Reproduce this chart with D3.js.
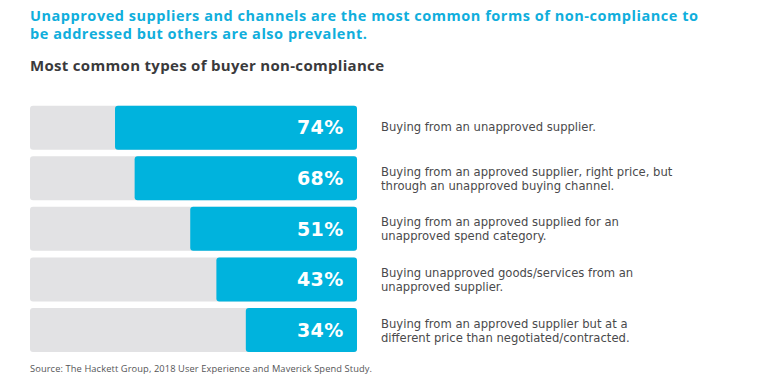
<!DOCTYPE html>
<html>
<head>
<meta charset="utf-8">
<script src="https://cdn.jsdelivr.net/npm/d3@7"></script>
<style>
  html, body { margin: 0; padding: 0; background: #ffffff; }
  svg { display: block; }
</style>
</head>
<body>
<script>
// ---- data ----
const categories = [
  "Buying from an unapproved supplier.",
  "Buying from an approved supplier, right price, but through an unapproved buying channel.",
  "Buying from an approved supplied for an unapproved spend category.",
  "Buying unapproved goods/services from an unapproved supplier.",
  "Buying from an approved supplier but at a different price than negotiated/contracted."
];
const descriptionLines = [
  ["Buying from an unapproved supplier."],
  ["Buying from an approved supplier, right price, but", "through an unapproved buying channel."],
  ["Buying from an approved supplied for an", "unapproved spend category."],
  ["Buying unapproved goods/services from an", "unapproved supplier."],
  ["Buying from an approved supplier but at a", "different price than negotiated/contracted."]
];
const values = [74, 68, 51, 43, 34];
const titleLines = [
  "Unapproved suppliers and channels are the most common forms of non-compliance to",
  "be addressed but others are also prevalent."
];
const subtitle = "Most common types of buyer non-compliance";
const source = "Source: The Hackett Group, 2018 User Experience and Maverick Spend Study.";

// ---- layout ----
const W = 760, H = 383;
const trackLeft = 30, trackRight = 357;
const svg = d3.select("body").append("svg").attr("width", W).attr("height", H);

const y = d3.scaleBand().domain(categories).range([105.7, 352]).paddingInner(0.13).paddingOuter(0);
const x = d3.scaleLinear().domain([0, 100]).range([0, trackRight - trackLeft]);

// title (one text element, two lines)
const title = svg.append("text")
  .attr("font-family", "'Open Sans', sans-serif").attr("font-weight", 700)
  .attr("font-size", 14.5).attr("fill", "#10aedc");
title.selectAll("tspan").data(titleLines).join("tspan")
  .attr("x", 30).attr("y", (d, i) => 21.3 + i * 18)
  .attr("textLength", (d, i) => i === 0 ? 668 : 337).attr("lengthAdjust", "spacing")
  .text(d => d);

svg.append("text").attr("x", 30).attr("y", 70.7)
  .attr("font-family", "'Open Sans', sans-serif").attr("font-weight", 700)
  .attr("font-size", 15).attr("fill", "#3a3a3c")
  .attr("textLength", 354).attr("lengthAdjust", "spacing")
  .text(subtitle);

// rows
const rows = svg.append("g").selectAll("g").data(categories).join("g")
  .attr("transform", d => `translate(0,${y(d)})`);

rows.append("rect")
  .attr("x", trackLeft).attr("y", 0)
  .attr("width", x(100)).attr("height", y.bandwidth())
  .attr("rx", 3).attr("fill", "#e2e2e4");

rows.append("rect")
  .attr("x", (d, i) => trackRight - x(values[i])).attr("y", 0)
  .attr("width", (d, i) => x(values[i])).attr("height", y.bandwidth())
  .attr("rx", 3).attr("fill", "#00b3dd");

rows.append("text")
  .attr("x", trackRight - 60).attr("y", y.bandwidth() / 2 + 6.8)
  .attr("font-family", "'DejaVu Sans', sans-serif").attr("font-weight", 700)
  .attr("font-size", 19).attr("fill", "#ffffff").attr("letter-spacing", 0.4)
  .text((d, i) => values[i] + "%");

rows.each(function(d, i) {
  const lines = descriptionLines[i];
  const c = y.bandwidth() / 2;
  const startY = lines.length === 1 ? c + 3.6 : c - 2.4;
  const t = d3.select(this).append("text")
    .attr("font-family", "'DejaVu Sans', sans-serif").attr("font-size", 11.6)
    .attr("fill", "#4a4a4c");
  t.selectAll("tspan").data(lines).join("tspan")
    .attr("x", 381).attr("y", (l, j) => startY + j * 14)
    .text(l => l);
});

svg.append("text").attr("x", 30).attr("y", 371.5)
  .attr("font-family", "'Open Sans', sans-serif").attr("font-size", 9.3)
  .attr("fill", "#555557")
  .attr("textLength", 342).attr("lengthAdjust", "spacing")
  .text(source);
</script>
</body>
</html>
